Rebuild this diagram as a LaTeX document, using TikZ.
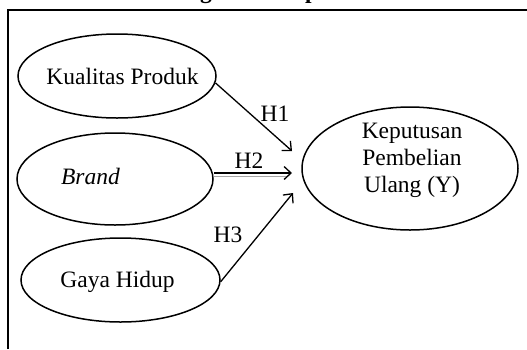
\documentclass[tikz,border=0pt]{standalone}
\usepackage{fontspec}
\setmainfont{Liberation Serif}
\usetikzlibrary{shapes.geometric,arrows.meta}
\tikzset{
  ell/.style={draw, ellipse, line width=1.5pt, inner sep=0pt},
  txt/.style={font=\fontsize{23.5}{27}\selectfont, inner sep=0pt, align=center},
  conn/.style={line width=1.3pt, -{Straight Barb[length=7pt,width=13pt,line width=1.3pt]}},
  shadowline/.style={line width=1.3pt, black!35}
}
\begin{document}
\begin{tikzpicture}[x=1pt,y=-1pt]
\useasboundingbox (0,0) rectangle (527,349);
\clip (0,0) rectangle (527,349);
% title (cut off at the top)
\node[font=\fontsize{23.5}{27}\selectfont\bfseries, inner sep=0pt, anchor=base] (title) at (246.7,-1.5) {Kerangka Konseptual};
% frame
\coordinate (fl) at (8,349);
\coordinate (fc) at (8,10);
\coordinate (fr) at (530,10);
\draw[line width=1.5pt] (fl) -- (fc) -- (fr);
% ellipses
\node[ell, minimum width=198pt, minimum height=84pt] (kp) at (117,76) {};
\node[ell, minimum width=196pt, minimum height=92pt] (br) at (115,179) {};
\node[ell, minimum width=199pt, minimum height=84pt] (gh) at (120.5,280) {};
\node[ell, minimum width=216pt, minimum height=123pt] (y) at (410,168.5) {};
% texts
\node[txt] (kpt) at (122.5,76) {Kualitas Produk};
\node[txt] (brt) at (90.5,176) {\itshape Brand};
\node[txt] (ght) at (117.5,282) {Gaya Hidup};
\node[txt] (yt) at (412,160) {Keputusan\\Pembelian\\Ulang (Y)};
% connectors
\coordinate (e1) at (292,151);
\coordinate (e2) at (292,173);
\coordinate (e3) at (293,193);
\coordinate (s2s) at (214,176.5);
\coordinate (e2s) at (288,176.5);
\draw[shadowline] (s2s) -- (e2s);
\draw[conn] (kp.-4) -- (e1);
\draw[conn] (br.east |- e2) -- (e2);
\draw[conn] (gh.-1) -- (e3);
% labels
\node[txt] (h1) at (275,114) {H1};
\node[txt] (h2) at (249,161) {H2};
\node[txt] (h3) at (228,235) {H3};
\end{tikzpicture}
\end{document}
